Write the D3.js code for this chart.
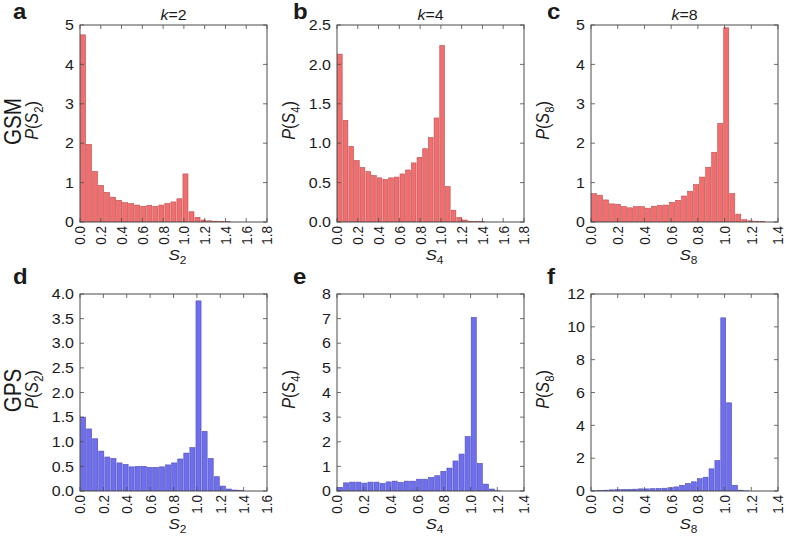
<!DOCTYPE html>
<html>
<head>
<meta charset="utf-8">
<script src="https://d3js.org/d3.v7.min.js"></script>
<style>
  body { margin: 0; background: #fff; }
  text { font-family: "Liberation Sans", Arial, sans-serif; fill: #1a1a1a; }
</style>
</head>
<body>
<svg width="786" height="540"></svg>
<script>

// histogram heights P(S_k), one value per bin, bins start at S = 0
var gsmK2 = [4.75, 1.97, 1.28, 0.93, 0.75, 0.63, 0.55, 0.49, 0.47, 0.43, 0.40, 0.42, 0.40, 0.43, 0.47, 0.51, 0.59, 1.22, 0.26, 0.12, 0.05, 0.03, 0.02, 0.01, 0.01];
var gsmK4 = [2.13, 1.29, 0.96, 0.78, 0.69, 0.64, 0.59, 0.56, 0.54, 0.56, 0.57, 0.61, 0.66, 0.75, 0.82, 0.93, 1.07, 1.32, 2.24, 0.45, 0.15, 0.06, 0.025, 0.01, 0.005, 0.005];
var gsmK8 = [0.72, 0.68, 0.56, 0.46, 0.45, 0.39, 0.36, 0.39, 0.39, 0.35, 0.40, 0.42, 0.43, 0.50, 0.55, 0.66, 0.78, 0.95, 1.14, 1.39, 1.77, 2.50, 4.93, 0.72, 0.20, 0.06, 0.03, 0.02, 0.01];
var gpsK2 = [1.50, 1.26, 1.06, 0.81, 0.69, 0.66, 0.57, 0.54, 0.49, 0.50, 0.50, 0.48, 0.48, 0.49, 0.53, 0.57, 0.65, 0.77, 0.88, 3.86, 1.21, 0.66, 0.29, 0.10, 0.04, 0.02, 0.01];
var gpsK4 = [0.15, 0.33, 0.36, 0.36, 0.32, 0.36, 0.36, 0.31, 0.37, 0.40, 0.35, 0.40, 0.40, 0.48, 0.48, 0.55, 0.62, 0.80, 0.93, 1.22, 1.50, 2.21, 7.05, 1.12, 0.28, 0.08, 0.01];
var gpsK8 = [0.01, 0.03, 0.05, 0.07, 0.08, 0.09, 0.10, 0.11, 0.13, 0.13, 0.14, 0.15, 0.17, 0.20, 0.25, 0.35, 0.46, 0.56, 0.75, 0.84, 1.35, 1.85, 10.55, 5.37, 0.35, 0.05, 0.01];

// bin width in S for each panel (a..f)
var binWidths = [0.058, 0.0547, 0.045, 0.052, 0.0455, 0.044];

var panelLetters = ["a", "b", "c", "d", "e", "f"];
var kValues = [2, 4, 8];
var rowNames = ["GSM", "GPS"];

// tick labels
var xTicks18 = [0, 0.2, 0.4, 0.6, 0.8, 1.0, 1.2, 1.4, 1.6, 1.8];
var xTicks16 = [0, 0.2, 0.4, 0.6, 0.8, 1.0, 1.2, 1.4, 1.6];
var xTicks14 = [0, 0.2, 0.4, 0.6, 0.8, 1.0, 1.2, 1.4];
var yTicksA = [0, 1, 2, 3, 4, 5];
var yTicksB = [0, 0.5, 1.0, 1.5, 2.0, 2.5];
var yTicksC = [0, 1, 2, 3, 4, 5];
var yTicksD = [0, 0.5, 1.0, 1.5, 2.0, 2.5, 3.0, 3.5, 4.0];
var yTicksE = [0, 1, 2, 3, 4, 5, 6, 7, 8];
var yTicksF = [0, 2, 4, 6, 8, 10, 12];

var panels = [
  {values: gsmK2, w: binWidths[0], xt: xTicks18, yt: yTicksA, yfmt: "d",   row: 0, col: 0},
  {values: gsmK4, w: binWidths[1], xt: xTicks18, yt: yTicksB, yfmt: ".1f", row: 0, col: 1},
  {values: gsmK8, w: binWidths[2], xt: xTicks14, yt: yTicksC, yfmt: "d",   row: 0, col: 2},
  {values: gpsK2, w: binWidths[3], xt: xTicks16, yt: yTicksD, yfmt: ".1f", row: 1, col: 0},
  {values: gpsK4, w: binWidths[4], xt: xTicks14, yt: yTicksE, yfmt: "d",   row: 1, col: 1},
  {values: gpsK8, w: binWidths[5], xt: xTicks14, yt: yTicksF, yfmt: "d",   row: 1, col: 2}
];

var svg = d3.select("svg");
var colLeft = [80, 337, 591],
    rowTop = [25, 294],
    W = 187, H = 197;
var fills = ["#f26d6d", "#6f6fee"],
    strokes = ["#b94f4f", "#4b4bb8"];
var axisColor = "#4a4a4a";
var squash = "scale(1,0.9)";

function put(sel, x, y, rotate) {
  return sel.attr("transform", "translate(" + x + "," + y + ") " + squash + (rotate ? " rotate(-90)" : ""));
}

// text like "S" with subscript k, italic main letter
function subLabel(t, k, size) {
  t.append("tspan").attr("font-style", "italic").text("S");
  t.append("tspan").attr("font-size", size * 0.7).attr("dy", size * 0.25).text(k);
}

panels.forEach(function(p, i) {
  var k = kValues[p.col];
  var g = svg.append("g")
      .attr("transform", "translate(" + colLeft[p.col] + "," + rowTop[p.row] + ")");

  var x = d3.scaleLinear().domain([0, p.xt[p.xt.length - 1]]).range([0, W]);
  var y = d3.scaleLinear().domain([0, p.yt[p.yt.length - 1]]).range([H, 0]);

  g.append("clipPath").attr("id", "clip" + i)
    .append("rect").attr("width", W).attr("height", H);

  g.append("g").attr("clip-path", "url(#clip" + i + ")")
    .selectAll("rect")
    .data(p.values)
    .enter().append("rect")
      .attr("x", function(d, j) { return x(j * p.w) + 0.5; })
      .attr("width", function(d, j) { return x((j + 1) * p.w) - x(j * p.w) - 1; })
      .attr("y", function(d) { return y(d); })
      .attr("height", function(d) { return H - y(d); })
      .attr("fill", fills[p.row])
      .attr("stroke", strokes[p.row])
      .attr("stroke-width", 0.6);

  // inside ticks on all four sides
  var ticks = g.append("g").attr("stroke", axisColor).attr("stroke-width", 0.8);
  p.xt.forEach(function(t) {
    ticks.append("line").attr("x1", x(t)).attr("x2", x(t)).attr("y1", H).attr("y2", H - 4);
    ticks.append("line").attr("x1", x(t)).attr("x2", x(t)).attr("y1", 0).attr("y2", 4);
  });
  p.yt.forEach(function(t) {
    ticks.append("line").attr("x1", 0).attr("x2", 4).attr("y1", y(t)).attr("y2", y(t));
    ticks.append("line").attr("x1", W).attr("x2", W - 4).attr("y1", y(t)).attr("y2", y(t));
  });

  g.append("rect").attr("width", W).attr("height", H)
    .attr("fill", "none").attr("stroke", axisColor).attr("stroke-width", 1);

  var fy = d3.format(p.yfmt), fx = d3.format(".1f");
  p.yt.forEach(function(t) {
    put(g.append("text"), -6, y(t))
      .attr("text-anchor", "end").attr("dy", "0.36em")
      .attr("font-size", 16).text(fy(t));
  });
  p.xt.forEach(function(t) {
    put(g.append("text"), x(t), H + 4, true)
      .attr("text-anchor", "end").attr("dy", "0.36em")
      .attr("font-size", 15).text(fx(t));
  });

  // x label
  var xl = put(g.append("text"), W / 2 + 4, H + 38).attr("text-anchor", "middle").attr("font-size", 17);
  subLabel(xl, k, 17);

  // y label P(S_k)
  var yl = put(g.append("text"), -42, H / 2 - 3, true).attr("text-anchor", "middle").attr("font-size", 18);
  yl.append("tspan").attr("font-style", "italic").text("P");
  yl.append("tspan").text("(");
  subLabel(yl, k, 18);
  yl.append("tspan").attr("dy", -18 * 0.25).text(")");

  // panel letter
  put(g.append("text"), p.col === 0 ? -67 : -44, p.row === 0 ? -6 : -10)
    .attr("font-size", 24).attr("font-weight", "bold").text(panelLetters[i]);

  if (p.row === 0) {
    var tl = put(g.append("text"), W / 2, -5).attr("text-anchor", "middle").attr("font-size", 16);
    tl.append("tspan").attr("font-style", "italic").text("k");
    tl.append("tspan").text("=" + k);
  }
});

rowNames.forEach(function(name, r) {
  put(svg.append("text"), 13, rowTop[r] + H / 2 - 2, true)
    .attr("text-anchor", "middle").attr("dy", "0.36em")
    .attr("font-size", 23).text(name);
});

</script>
</body>
</html>
